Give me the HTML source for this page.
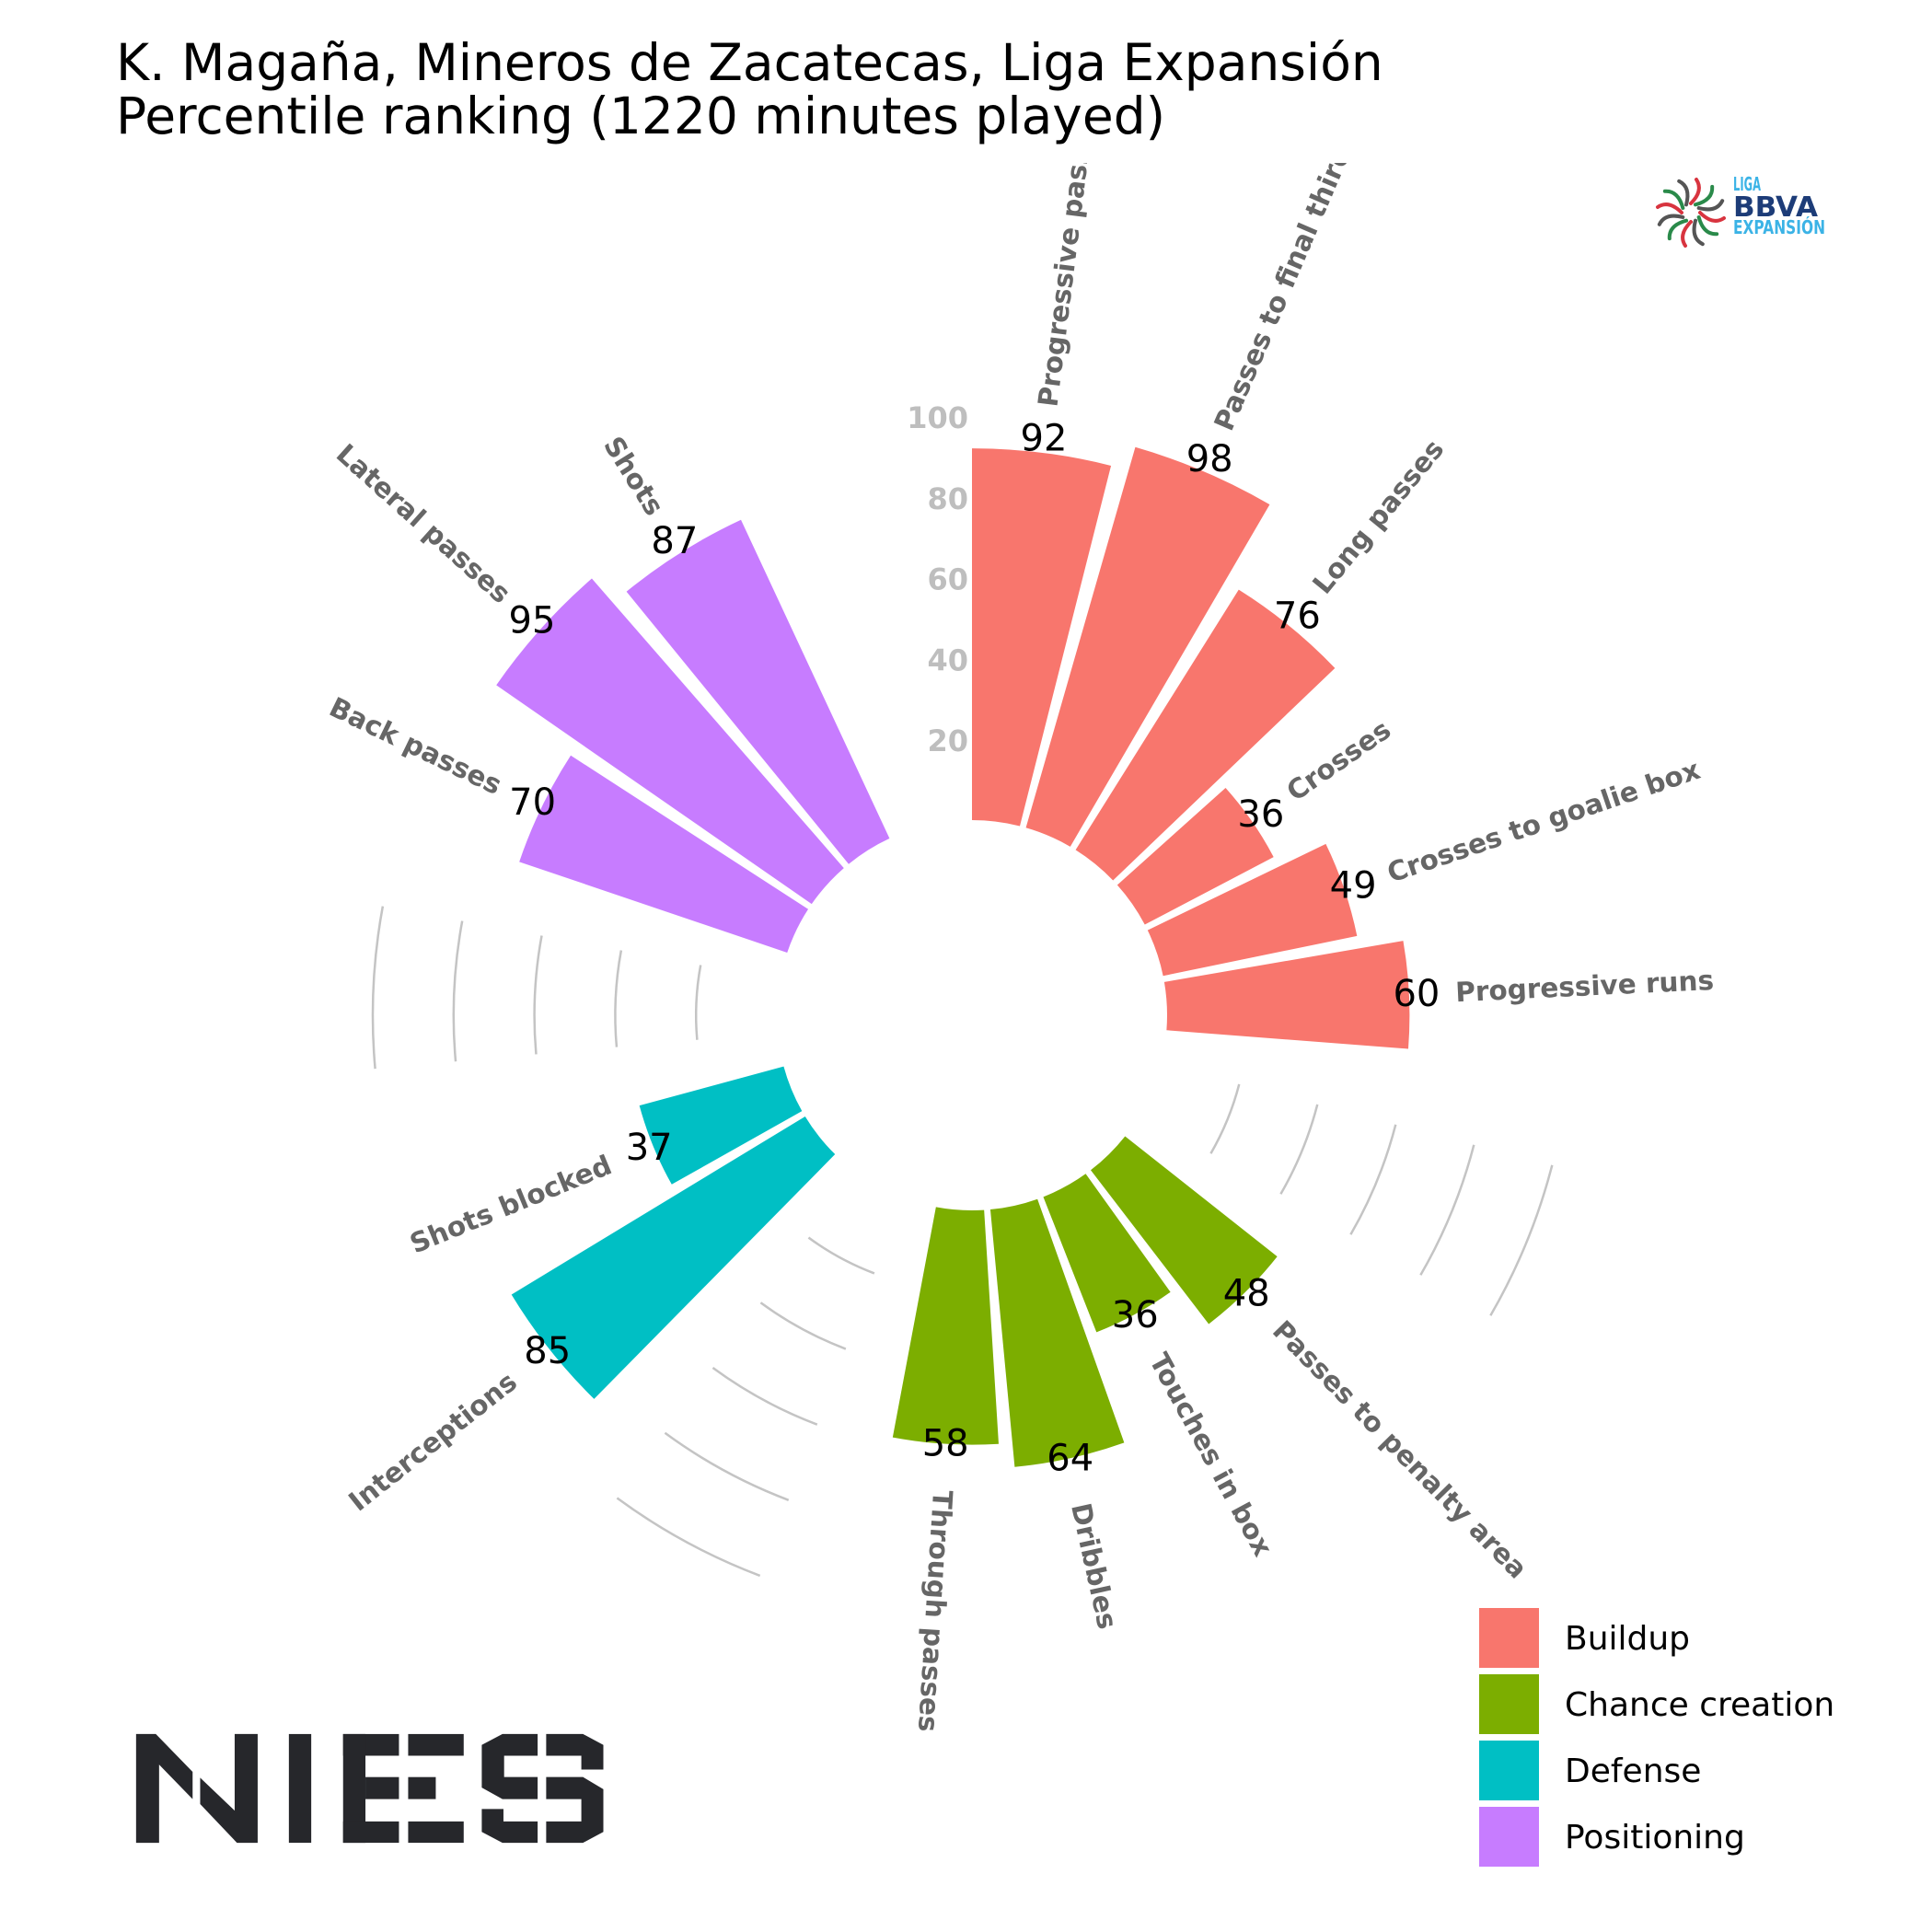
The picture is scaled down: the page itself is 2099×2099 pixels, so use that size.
<!DOCTYPE html>
<html><head><meta charset="utf-8"><style>
html,body{margin:0;padding:0;background:#fff;}
svg{display:block;font-family:"DejaVu Sans","Liberation Sans",sans-serif;}
</style></head><body>
<svg id="chart" width="2099" height="2099" viewBox="0 0 2099 2099" xmlns="http://www.w3.org/2000/svg">
<defs><clipPath id="axclip"><rect x="0" y="177" width="2099" height="1922"/></clipPath></defs>
<text x="126" y="87" font-size="55" fill="#000">K. Magaña, Mineros de Zacatecas, Liga Expansión</text>
<text x="126" y="145" font-size="55" fill="#000">Percentile ranking (1220 minutes played)</text>
<g id="plot" clip-path="url(#axclip)"></g>
<g id="legend"></g>
<g id="ligalogo"></g>
<g fill="#26272b" transform="translate(130,1860) scale(0.357)">
<polygon points="50,67 110,67 222,182 222,265 120,160 120,398 50,398"/>
<polygon points="245,200 350,300 350,67 420,67 420,398 357,398 245,280"/>
<rect x="515" y="67" width="68" height="331"/>
<rect x="680" y="67" width="170" height="66"/><rect x="680" y="67" width="68" height="331"/>
<rect x="748" y="198" width="102" height="67"/><rect x="680" y="333" width="170" height="65"/>
<rect x="878" y="67" width="169" height="66"/><rect x="878" y="198" width="84" height="67"/><rect x="878" y="333" width="169" height="65"/>
<polygon points="1102,100 1165,67 1272,67 1272,133 1170,133 1170,198 1272,198 1272,265 1165,265 1102,230"/>
<polygon points="1102,295 1168,295 1168,333 1272,333 1272,398 1165,398 1102,365"/>
<polygon points="1298,67 1410,67 1472,100 1472,175 1405,175 1405,133 1298,133"/>
<polygon points="1298,198 1410,198 1472,235 1472,365 1410,398 1298,398 1298,333 1405,333 1405,265 1298,265"/>
</g>
</svg>
<script>
const categories = ["Progressive passes","Passes to final third","Long passes","Crosses","Crosses to goalie box","Progressive runs","Passes to penalty area","Touches in box","Dribbles","Through passes","Interceptions","Shots blocked","Back passes","Lateral passes","Shots"];
const values = [92,98,76,36,49,60,48,36,64,58,85,37,70,95,87];
const groups = ["Buildup","Buildup","Buildup","Buildup","Buildup","Buildup","Chance creation","Chance creation","Chance creation","Chance creation","Defense","Defense","Positioning","Positioning","Positioning"];
const groupNames = ["Buildup","Chance creation","Defense","Positioning"];
const groupColors = ["#f8766d","#7cae00","#00bfc4","#c77cff"];
const tickValues = [20,40,60,80,100];
const tickLabels = ["20","40","60","80","100"];

const NS="http://www.w3.org/2000/svg";
const CX=1056, CY=1103, R0=212, PXU=4.39, SLOT=16.04, BARW=14.2, GAPSLOTS=2;
function rScale(v){return R0+v*PXU;}
function pt(deg,r){const a=deg*Math.PI/180;return [CX+r*Math.sin(a), CY-r*Math.cos(a)];}
function mk(tag,attrs,parent){const e=document.createElementNS(NS,tag);for(const k in attrs)e.setAttribute(k,attrs[k]);parent.appendChild(e);return e;}
const plot=document.getElementById('plot');

const slots=[];let s=0;const gapCenters=[];
for(let i=0;i<categories.length;i++){
  if(i>0 && groups[i]!==groups[i-1]){gapCenters.push((s+1)*SLOT);s+=GAPSLOTS;}
  slots.push(s);s++;
}
gapCenters.forEach(c=>{
  tickValues.forEach(t=>{
    const r=rScale(t);const a=pt(c-7.8,r),b=pt(c+7.8,r);
    const arc=mk('path',{d:`M${a[0]},${a[1]} A${r},${r} 0 0 1 ${b[0]},${b[1]}`,fill:'none',stroke:'#c4c4c4','stroke-width':2.5},plot);
    
    
  });
});
for(let i=0;i<categories.length;i++){
  const t0=slots[i]*SLOT,t1=t0+BARW,r=rScale(values[i]);
  const p1=pt(t0,R0),p2=pt(t0,r),p3=pt(t1,r),p4=pt(t1,R0);
  const col=groupColors[groupNames.indexOf(groups[i])];
  const bar=mk('path',{d:`M${p1[0]},${p1[1]} L${p2[0]},${p2[1]} A${r},${r} 0 0 1 ${p3[0]},${p3[1]} L${p4[0]},${p4[1]} A${R0},${R0} 0 0 0 ${p1[0]},${p1[1]} Z`,fill:col},plot);
  
  
  const mid=t0+BARW/2;
  const cosm=Math.cos(mid*Math.PI/180);
  const vp=pt(mid,rScale(values[i]+1.75+1.75*cosm));
  const vt=mk('text',{x:vp[0],y:vp[1],'text-anchor':'middle','dominant-baseline':'central','font-size':40,fill:'#000'},plot);
  vt.textContent=values[i];
  
  
  const lp=pt(mid,rScale(values[i]+11.5));
  const flip=mid>200;
  const rot=flip?mid-90+180:mid-90;
  const lt=mk('text',{x:lp[0],y:lp[1],'text-anchor':flip?'end':'start','dominant-baseline':'central','font-size':29.5,'font-weight':'bold',fill:'#666666',transform:`rotate(${rot} ${lp[0]} ${lp[1]})`},plot);
  lt.textContent=categories[i];
  
  
}
tickValues.forEach((t,i)=>{
  const tt=mk('text',{x:1052,y:CY-R0-t*PXU+2,'text-anchor':'end','dominant-baseline':'central','font-size':32,'font-weight':'bold',fill:'#bebebe'},plot);
  tt.textContent=tickLabels[i];
  
  
});
const lg=document.getElementById('legend');
groupNames.forEach((g,i)=>{
  const y=1747+i*72;
  const sw=mk('rect',{x:1607,y:y,width:65,height:65,fill:groupColors[i]},lg);
  
  
  const tx=mk('text',{x:1700,y:y+45,'font-size':36,fill:'#000'},lg);
  tx.textContent=g;
  
  
});
const ll=document.getElementById('ligalogo');
const spCols=['#d8343f','#2a8a4a','#555','#d8343f','#2a8a4a','#555','#d8343f','#2a8a4a','#555','#d8343f','#2a8a4a','#555'];
spCols.forEach((c,i)=>{
  const a=i*30;
  const el=mk('path',{d:'M0,-10 Q14,-24 6,-36',stroke:c,'stroke-width':4,fill:'none','stroke-linecap':'round',transform:`translate(1837,231) rotate(${a})`},ll);
  
  
});
[["LIGA",207,20,'#3bb3e6',30],["BBVA",235,30,'#1d3c78',92],["EXPANSIÓN",254,20,'#3bb3e6',100]].forEach(d=>{
  const t=mk('text',{x:1883,y:d[1],'font-size':d[2],'font-weight':'bold',fill:d[3],textLength:d[4],lengthAdjust:'spacingAndGlyphs'},ll);
  t.textContent=d[0];
  
  
});
</script>
</body></html>
